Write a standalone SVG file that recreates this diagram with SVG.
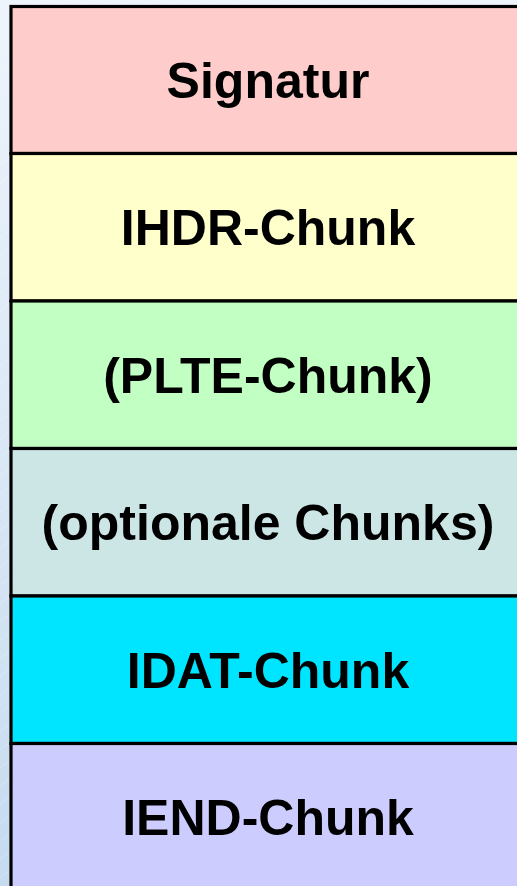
<svg xmlns="http://www.w3.org/2000/svg" width="517" height="886" viewBox="0 0 517 886">
  <defs>
    <linearGradient id="bg" x1="0" y1="0" x2="0" y2="1">
      <stop offset="0" stop-color="#eef4fc"/>
      <stop offset="1" stop-color="#c6dbef"/>
    </linearGradient>
    <pattern id="hatch" width="14" height="14" patternUnits="userSpaceOnUse" patternTransform="rotate(-40)">
      <line x1="0" y1="0" x2="14" y2="0" stroke="#ffffff" stroke-opacity="0.35" stroke-width="1"/>
    </pattern>
    <style>
      .row { stroke: #000; stroke-width: 3.2; }
      .lbl { font-family: "Liberation Sans", Arial, sans-serif; font-weight: bold; font-size: 50px; fill: #000; text-anchor: middle; }
    </style>
  </defs>
  <rect x="0" y="0" width="517" height="886" fill="url(#bg)"/>
  <rect x="0" y="0" width="517" height="886" fill="url(#hatch)"/>
  <g id="signatur">
    <rect class="row" x="11" y="6.5" width="520" height="147" fill="#ffcccc"/>
    <text class="lbl" x="268" y="98">Signatur</text>
  </g>
  <g id="ihdr">
    <rect class="row" x="11" y="153.5" width="520" height="147.5" fill="#ffffcc"/>
    <text class="lbl" x="268" y="245">IHDR-Chunk</text>
  </g>
  <g id="plte">
    <rect class="row" x="11" y="301" width="520" height="147.5" fill="#c2ffc2"/>
    <text class="lbl" x="268" y="393">(PLTE-Chunk)</text>
  </g>
  <g id="optional">
    <rect class="row" x="11" y="448.5" width="520" height="147.5" fill="#cce5e5"/>
    <text class="lbl" x="268" y="540">(optionale Chunks)</text>
  </g>
  <g id="idat">
    <rect class="row" x="11" y="596" width="520" height="147.5" fill="#00e5ff"/>
    <text class="lbl" x="268" y="688">IDAT-Chunk</text>
  </g>
  <g id="iend">
    <rect class="row" x="11" y="743.5" width="520" height="160" fill="#ccccff"/>
    <text class="lbl" x="268" y="835">IEND-Chunk</text>
  </g>
  <g id="connectors"/>
</svg>
